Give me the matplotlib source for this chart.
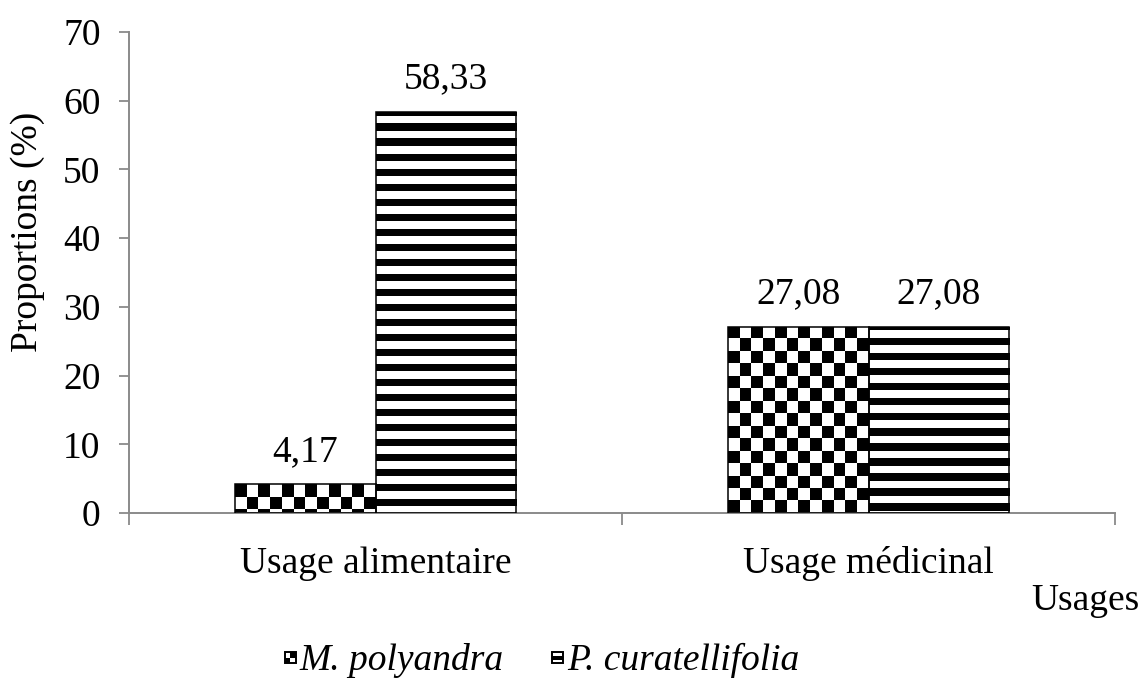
import math
import numpy as np
import matplotlib
matplotlib.use("Agg")
import matplotlib.pyplot as plt
from matplotlib.patches import Rectangle
from matplotlib.legend_handler import HandlerBase

# --- data -------------------------------------------------------------
categories = ["Usage alimentaire", "Usage médicinal"]
species = ["M. polyandra", "P. curatellifolia"]
m_polyandra = [4.17, 27.08]
p_curatellifolia = [58.33, 27.08]
y_ticks = [0, 10, 20, 30, 40, 50, 60, 70]
y_label = "Proportions (%)"
x_label = "Usages"

# --- style ------------------------------------------------------------
plt.rcParams["font.family"] = ["Liberation Serif", "DejaVu Serif"]
FS = 27
AXIS_GREY = "#8a8a8a"

W_PX, H_PX, DPI = 1141, 684, 100
fig = plt.figure(figsize=(W_PX / DPI, H_PX / DPI), dpi=DPI)
ax_left, ax_right, ax_top, ax_bottom = 129, 1115, 32, 513
ax = fig.add_axes([ax_left / W_PX, 1 - ax_bottom / H_PX,
                   (ax_right - ax_left) / W_PX, (ax_bottom - ax_top) / H_PX])

XLIM = (-0.5, len(categories) - 0.5)
YLIM = (0, 70)
# data units per pixel
ux = (XLIM[1] - XLIM[0]) / (ax_right - ax_left)
uy = (YLIM[1] - YLIM[0]) / (ax_bottom - ax_top)

x = np.arange(len(categories))
width = 1 / 3.5  # two bars plus a 150 % gap per category

bars_m = ax.bar(x - width / 2, m_polyandra, width, facecolor="none",
                edgecolor="black", linewidth=1.1, zorder=3)
bars_p = ax.bar(x + width / 2, p_curatellifolia, width, facecolor="none",
                edgecolor="black", linewidth=1.1, zorder=3)


def fill_pattern(bar, kind):
    """Paint a black/white pattern inside a bar, clipped to its outline."""
    x0, w, h = bar.get_x(), bar.get_width(), bar.get_height()
    top = h
    if kind == "checker":
        cw, ch = 11.75 * ux, 12.4 * uy
        ncol = max(1, int(round(w / cw)))
        nrow = int(math.ceil(h / ch))
        i, j = np.indices((nrow, ncol))
        arr = ((i + j) % 2).astype(float)  # 0 -> black at top-left
        ext = (x0, x0 + w, top - nrow * ch, top)
    else:  # horizontal stripes
        half = 7.5 * uy
        shift = 3.5 * uy
        nrow = int(math.ceil((h + shift) / half)) + 1
        arr = (np.arange(nrow) % 2).astype(float)[:, None]
        ext = (x0, x0 + w, top + shift - nrow * half, top + shift)
    im = ax.imshow(arr, cmap="gray", vmin=0, vmax=1, extent=ext,
                   origin="upper", interpolation="nearest", aspect="auto",
                   zorder=2)
    im.set_clip_path(bar)


for b in bars_m:
    fill_pattern(b, "checker")
for b in bars_p:
    fill_pattern(b, "stripes")

ax.set_xlim(*XLIM)
ax.set_ylim(*YLIM)

# value labels above bars
for bars, vals in ((bars_m, m_polyandra), (bars_p, p_curatellifolia)):
    for b, v in zip(bars, vals):
        ax.annotate(f"{v:.2f}".replace(".", ","),
                    xy=(b.get_x() + b.get_width() / 2, v),
                    xytext=(0, 17), textcoords="offset points",
                    ha="center", va="baseline", fontsize=FS)

# axes decoration
for s in ("top", "right"):
    ax.spines[s].set_visible(False)
for s in ("left", "bottom"):
    ax.spines[s].set_color(AXIS_GREY)
    ax.spines[s].set_linewidth(1.4)

ax.set_yticks(y_ticks)
ax.tick_params(axis="y", direction="out", length=7.5, width=1.3,
               color=AXIS_GREY, pad=13, labelsize=FS)

ax.set_xticks(x)
ax.set_xticklabels(categories)
ax.set_xticks(np.arange(len(categories) + 1) - 0.5, minor=True)
ax.tick_params(axis="x", which="major", length=0, pad=24, labelsize=FS)
ax.tick_params(axis="x", which="minor", direction="out", length=8.6,
               width=1.3, color=AXIS_GREY)

ax.set_ylabel(y_label, fontsize=FS, va="center")
ax.yaxis.set_label_coords(-0.1024, 0.584)

fig.text(1139 / W_PX, 1 - 610 / H_PX, x_label, ha="right", va="baseline",
         fontsize=FS)


# legend with small square swatches
class SwatchHandler(HandlerBase):
    def __init__(self, kind):
        super().__init__()
        self.kind = kind

    def create_artists(self, legend, orig_handle, xdescent, ydescent,
                       width, height, fontsize, trans):
        s = 8.0
        x0 = -xdescent + (width - s) / 2
        y0 = -ydescent + (height - s) / 2 - 1.0
        arts = [Rectangle((x0, y0), s, s, facecolor="white",
                          edgecolor="black", linewidth=1.4, transform=trans)]
        if self.kind == "checker":
            arts.append(Rectangle((x0 + s / 2, y0 + s / 2), s / 2, s / 2,
                                  facecolor="black", edgecolor="none",
                                  transform=trans))
            arts.append(Rectangle((x0, y0), s / 2, s / 2,
                                  facecolor="black", edgecolor="none",
                                  transform=trans))
        else:
            arts.append(Rectangle((x0, y0 + s / 3), s, s / 3,
                                  facecolor="black", edgecolor="none",
                                  transform=trans))
        return arts


h_m = Rectangle((0, 0), 1, 1)
h_p = Rectangle((0, 0), 1, 1)
fig.legend([h_m, h_p], species,
           handler_map={h_m: SwatchHandler("checker"),
                        h_p: SwatchHandler("stripes")},
           loc="center", bbox_to_anchor=(542 / W_PX, 1 - 660 / H_PX),
           ncol=2, frameon=False, prop={"style": "italic", "size": FS},
           handlelength=0.3, handletextpad=0.1, columnspacing=1.3,
           borderpad=0, borderaxespad=0)

fig.savefig("out.png", dpi=DPI)
